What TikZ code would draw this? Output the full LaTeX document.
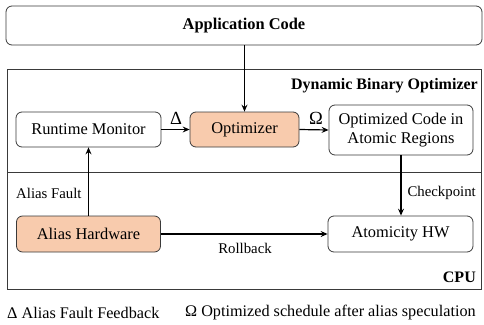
\documentclass[tikz,border=0pt]{standalone}
\usepackage{fontspec}
\setmainfont{LiberationSerif}[Extension=.ttf, UprightFont=*-Regular, BoldFont=*-Bold, ItalicFont=*-Italic, BoldItalicFont=*-BoldItalic]
\usetikzlibrary{arrows.meta}
\definecolor{peach}{HTML}{F8CBAD}
\definecolor{edge}{HTML}{3A3A3A}
\tikzset{
  blk/.style={draw=edge, line width=0.8pt, rounded corners=6pt, align=center,
    font=\fontsize{16.4}{18.5}\selectfont, inner sep=0pt},
  hot/.style={blk, fill=peach},
  frame/.style={draw=edge, line width=0.9pt},
  lbl/.style={font=\fontsize{14.8}{17}\selectfont, inner sep=0pt},
  ttl/.style={font=\fontsize{16}{18}\selectfont\bfseries, inner sep=0pt},
  sym/.style={font=\fontsize{18.5}{20}\selectfont, inner sep=0pt},
  leg/.style={font=\fontsize{16.2}{18}\selectfont, inner sep=0pt, anchor=west},
  flow/.style={line width=1.2pt, -{Stealth[length=7pt,width=6pt,inset=2.5pt]}}
}
\begin{document}
\begin{tikzpicture}[x=1pt, y=-1pt]
\useasboundingbox (0,0) rectangle (484,324);

% enclosing regions
\draw[frame] (7,69) rectangle (481,172);
\draw[frame] (7,172) rectangle (481,289);
\node[ttl, anchor=east] (dbo) at (478,86) {Dynamic Binary Optimizer};
\node[ttl, anchor=east] (cpu) at (476,277) {CPU};

% top box
\node[blk, minimum width=476pt, minimum height=39pt, font=\fontsize{16.4}{18.5}\selectfont\bfseries]
  (app) at (244,25.5) {Application Code};

% optimizer layer
\node[blk, minimum width=145pt, minimum height=35pt] (rm) at (88.5,129.5) {Runtime Monitor};
\node[hot, minimum width=109pt, minimum height=35pt] (opt) at (244.5,129.5) {Optimizer};
\node[blk, minimum width=144pt, minimum height=50pt] (oc) at (401,130) {Optimized Code in\\Atomic Regions};

% hardware layer
\node[hot, minimum width=144pt, minimum height=36pt] (ah) at (88.5,234) {Alias Hardware};
\node[blk, minimum width=145pt, minimum height=36pt] (ahw) at (400.5,234) {Atomicity HW};

% connectors
\draw[flow] (app.south -| opt.north) -- (opt.north);
\draw[flow] (rm.east) -- (opt.west);
\draw[flow] (opt.east) -- (oc.west);
\draw[flow] (oc.south) -- (oc.south |- ahw.north);
\draw[flow] (ah.north) -- (ah.north |- rm.south);
\draw[flow] (ah.east) -- (ahw.west);

% connector labels
\node[sym] (d) at (176,118.5) {Δ};
\node[sym] (o) at (316,118.5) {Ω};
\node[lbl, anchor=west] (af) at (16,193) {Alias Fault};
\node[lbl, anchor=east] (cp) at (476,193) {Checkpoint};
\node[lbl] (rb) at (245,248) {Rollback};

% legend
\node[leg] (l1) at (7,313) {Δ Alias Fault Feedback};
\node[leg] (l2) at (185,313) {Ω Optimized schedule after alias speculation};
\end{tikzpicture}
\end{document}
